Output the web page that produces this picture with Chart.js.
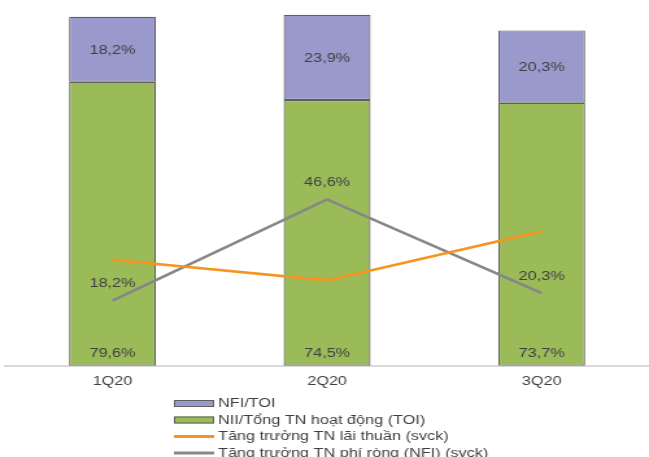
<!DOCTYPE html>
<html>
<head>
<meta charset="utf-8">
<script src="https://cdn.jsdelivr.net/npm/chart.js@4/dist/chart.umd.min.js"></script>
<style>
  html, body { margin: 0; padding: 0; background: #fff; }
</style>
</head>
<body>
<!-- drawn at 500px wide and shown at 649px: the whole chart is stretched sideways -->
<canvas id="chart" width="500" height="457" style="width:649px;height:457px;"></canvas>
<script>
// quarters and series (all in %)
const quarters = ["1Q20", "2Q20", "3Q20"];
const niiShare = [79.6, 74.5, 73.7];   // NII / TOI
const nfiShare = [18.2, 23.9, 20.3];   // NFI / TOI
const niiGrowth = [29.7, 23.9, 37.7];  // net interest income growth yoy
const nfiGrowth = [18.2, 46.6, 20.3];  // net fee income growth yoy

const FAMILY = '"Liberation Sans", Arial, sans-serif';
const FONT = "12.5px " + FAMILY;
const TEXT = "#3f3f3f";
const COLORS = {
  purple: "#9999cc",
  green: "#9bbb59",
  orange: "#f7941d",
  gray: "#878787",
  edge: "#5f5f5f",
};

const pct = (v) => v.toFixed(1).replace(".", ",") + "%";

// value labels: centred in the NFI segment, near the base of the NII segment,
// above the points of the NFI growth line
const valueLabels = {
  id: "valueLabels",
  afterDatasetsDraw(chart) {
    const ctx = chart.ctx;
    ctx.save();
    ctx.font = FONT;
    ctx.fillStyle = TEXT;
    ctx.textAlign = "center";
    ctx.textBaseline = "middle";
    chart.getDatasetMeta(0).data.forEach((bar, i) => {
      ctx.fillText(pct(niiShare[i]), bar.x, bar.base - 12);
    });
    chart.getDatasetMeta(1).data.forEach((bar, i) => {
      ctx.fillText(pct(nfiShare[i]), bar.x, (bar.y + bar.base) / 2 + 1);
    });
    chart.getDatasetMeta(3).data.forEach((pt, i) => {
      ctx.fillText(pct(nfiGrowth[i]), pt.x, pt.y - 17);
    });
    ctx.restore();
  },
};

// one legend entry per row, under the axis
const stackedLegend = {
  id: "stackedLegend",
  afterDraw(chart) {
    const ctx = chart.ctx;
    const order = [1, 0, 2, 3];
    const x0 = 134, w = 31, textX = 168;
    const rows = [403.5, 420, 436.5, 453];
    ctx.save();
    ctx.font = FONT;
    ctx.textBaseline = "middle";
    order.forEach((di, k) => {
      const ds = chart.data.datasets[di];
      const y = rows[k];
      if (ds.type === "line") {
        ctx.fillStyle = ds.borderColor;
        ctx.fillRect(x0, y - 1.5, w, 3);
      } else {
        ctx.fillStyle = ds.backgroundColor;
        ctx.fillRect(x0, y - 3.5, w, 7);
        ctx.strokeStyle = COLORS.edge;
        ctx.lineWidth = 1;
        ctx.strokeRect(x0 + 0.5, y - 3, w - 1, 6);
      }
      ctx.fillStyle = TEXT;
      ctx.fillText(ds.label, textX, y + 0.5);
    });
    ctx.restore();
  },
};

const barStyle = { borderColor: COLORS.edge, borderWidth: 1.2, borderSkipped: false, order: 2 };

new Chart(document.getElementById("chart"), {
  data: {
    labels: quarters,
    datasets: [
      { type: "bar", label: "NII/Tổng TN hoạt động (TOI)", data: niiShare, backgroundColor: COLORS.green, ...barStyle },
      { type: "bar", label: "NFI/TOI", data: nfiShare, backgroundColor: COLORS.purple, ...barStyle },
      { type: "line", label: "Tăng trưởng TN lãi thuần (svck)", data: niiGrowth, yAxisID: "y2",
        borderColor: COLORS.orange, borderWidth: 2.6, pointRadius: 0, tension: 0, order: 1 },
      { type: "line", label: "Tăng trưởng TN phí ròng (NFI) (svck)", data: nfiGrowth, yAxisID: "y2",
        borderColor: COLORS.gray, borderWidth: 2.6, pointRadius: 0, tension: 0, order: 1 },
    ],
  },
  options: {
    responsive: false,
    animation: false,
    events: [],
    layout: { padding: { left: 4, right: 0, top: 9, bottom: 59 } },
    datasets: { bar: { categoryPercentage: 1, barPercentage: 0.405 } },
    plugins: { legend: { display: false }, tooltip: { enabled: false } },
    scales: {
      x: {
        stacked: true,
        grid: { display: false, drawTicks: false },
        border: { display: true, color: "#d9d9d9", width: 2 },
        ticks: { font: { family: FAMILY, size: 12.5, lineHeight: 1.15 }, color: TEXT, padding: 9 },
      },
      y: { stacked: true, display: false, min: 0, max: 100 },
      y2: { display: false, min: 0, max: 100 },
    },
  },
  plugins: [valueLabels, stackedLegend],
});
</script>
</body>
</html>
